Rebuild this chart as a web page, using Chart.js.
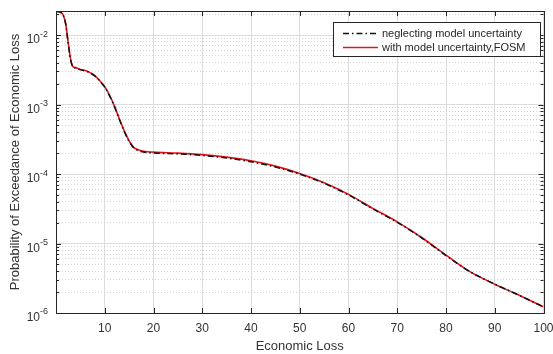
<!DOCTYPE html>
<html>
<head>
<meta charset="utf-8">
<script src="https://cdn.jsdelivr.net/npm/chart.js@4"></script>
<style>
  html, body { margin: 0; padding: 0; background: #fff; }
  #wrap { width: 553px; height: 354px; }
</style>
</head>
<body>
<div id="wrap"><canvas id="loss-chart" width="553" height="354"></canvas></div>
<script>
// ===== Data =====
const lossValues = [0, 0.5, 1, 1.5, 2, 2.5, 3, 3.5, 4, 5, 6, 7, 8, 9, 10, 11, 12, 13, 14, 15, 16, 17, 18, 20,
  25, 30, 35, 40, 45, 50, 55, 60, 65, 70, 75, 80, 85, 90, 95, 100];
const pNeglect = [0.0218, 0.0217, 0.0211, 0.0192, 0.0142, 0.0076, 0.0044, 0.00345, 0.00335, 0.00318, 0.00305,
  0.00285, 0.00256, 0.00218, 0.00178, 0.00133, 0.00093, 0.00061, 0.00041, 0.000295, 0.000236, 0.000216,
  0.000207, 0.000201, 0.000195, 0.000185, 0.00017, 0.00015, 0.000126, 0.0000995, 0.0000735, 0.00005,
  0.0000315, 0.0000202, 0.0000121, 0.0000067, 0.0000039, 0.0000026, 0.0000018, 0.00000122];
const pFosm = [0.0219, 0.0218, 0.0212, 0.0193, 0.0144, 0.0078, 0.0045, 0.0035, 0.0034, 0.0032, 0.00308,
  0.00288, 0.00259, 0.0022, 0.0018, 0.00135, 0.00095, 0.00062, 0.00042, 0.0003, 0.00024, 0.000222,
  0.000213, 0.000207, 0.0002, 0.00019, 0.000175, 0.000155, 0.00013, 0.000102, 0.000075, 0.000051,
  0.000032, 0.0000205, 0.0000122, 0.0000068, 0.0000039, 0.0000026, 0.0000018, 0.00000123];
const seriesLabels = ['neglecting model uncertainty', 'with model uncertainty,FOSM'];
const xTickValues = [10, 20, 30, 40, 50, 60, 70, 80, 90, 100];
const yDecades = [-6, -5, -4, -3, -2];
const yMinorFactors = [2, 3, 4, 5, 6, 7, 8, 9];

const X_MIN = 0, X_MAX = 100, Y_MIN = 1e-6, Y_MAX = 0.0222;
const TEXT_COLOR = '#333333';
const FONT_FAMILY = '"Liberation Sans", Arial, sans-serif';

function buildYTicks() {
  const ticks = [];
  yDecades.forEach(d => {
    const base = Math.pow(10, d);
    ticks.push({ value: base, major: true });
    yMinorFactors.forEach(f => {
      const v = f * base;
      if (v <= Y_MAX) ticks.push({ value: v, major: false });
    });
  });
  return ticks;
}

function toPoints(values) {
  return lossValues.map((x, i) => ({ x, y: values[i] }));
}

// ===== Frame, tick marks, y labels, legend =====
const matlabAxesPlugin = {
  id: 'matlabAxes',
  afterDraw(chart) {
    const { ctx, chartArea: a, scales } = chart;
    const xs = scales.x, ys = scales.y;
    ctx.save();

    // box
    ctx.strokeStyle = '#262626';
    ctx.lineWidth = 1;
    ctx.strokeRect(Math.round(a.left) + 0.5, Math.round(a.top) + 0.5,
      Math.round(a.right - a.left), Math.round(a.bottom - a.top));

    // tick marks (inward, all four sides)
    ctx.beginPath();
    xTickValues.forEach(v => {
      const px = Math.round(xs.getPixelForValue(v)) + 0.5;
      ctx.moveTo(px, a.bottom); ctx.lineTo(px, a.bottom - 5);
      ctx.moveTo(px, a.top); ctx.lineTo(px, a.top + 5);
    });
    buildYTicks().forEach(t => {
      const py = Math.round(ys.getPixelForValue(t.value)) + 0.5;
      const len = t.major ? 5 : 3;
      ctx.moveTo(a.left, py); ctx.lineTo(a.left + len, py);
      ctx.moveTo(a.right, py); ctx.lineTo(a.right - len, py);
    });
    ctx.stroke();

    // y labels as 10^n
    ctx.fillStyle = TEXT_COLOR;
    ctx.textAlign = 'right';
    ctx.textBaseline = 'middle';
    yDecades.forEach(d => {
      const py = ys.getPixelForValue(Math.pow(10, d));
      const sup = String(d);
      ctx.font = '9px ' + FONT_FAMILY;
      const supW = ctx.measureText(sup).width;
      ctx.fillText(sup, 48, py - 1);
      ctx.font = '12px ' + FONT_FAMILY;
      ctx.fillText('10', 48 - supW, py + 5);
    });

    // legend
    const lx = 333.5, ly = 22.5, lw = 207, lh = 34;
    ctx.fillStyle = '#ffffff';
    ctx.fillRect(lx, ly, lw, lh);
    ctx.strokeStyle = '#262626';
    ctx.strokeRect(lx, ly, lw, lh);
    const styles = [
      { color: '#111111', dash: [6, 3, 1.5, 3], width: 1.5 },
      { color: '#e8141b', dash: [], width: 1.5 },
    ];
    seriesLabels.forEach((label, i) => {
      const y = ly + 11 + i * 14;
      ctx.beginPath();
      ctx.setLineDash(styles[i].dash);
      ctx.strokeStyle = styles[i].color;
      ctx.lineWidth = styles[i].width;
      ctx.moveTo(343, y); ctx.lineTo(378, y);
      ctx.stroke();
      ctx.setLineDash([]);
      ctx.fillStyle = '#262626';
      ctx.font = '11px ' + FONT_FAMILY;
      ctx.textAlign = 'left';
      ctx.fillText(label, 382, y);
    });
    ctx.restore();
  },
};

// ===== Chart =====
function renderChart() {
  const ctx = document.getElementById('loss-chart').getContext('2d');
  new Chart(ctx, {
    type: 'line',
    data: {
      datasets: [
        {
          label: seriesLabels[0],
          data: toPoints(pNeglect),
          borderColor: '#111111',
          borderWidth: 1.5,
          borderDash: [6, 3, 1.5, 3],
          pointRadius: 0,
          cubicInterpolationMode: 'monotone',
        },
        {
          label: seriesLabels[1],
          data: toPoints(pFosm),
          borderColor: '#e8141b',
          borderWidth: 1.6,
          pointRadius: 0,
          cubicInterpolationMode: 'monotone',
        },
      ],
    },
    options: {
      responsive: false,
      animation: false,
      layout: { padding: { left: 0, right: 9.5, top: 11, bottom: 0 } },
      plugins: { legend: { display: false }, tooltip: { enabled: false } },
      scales: {
        x: {
          type: 'linear',
          min: X_MIN,
          max: X_MAX,
          afterBuildTicks: (scale) => { scale.ticks = xTickValues.map(v => ({ value: v })); },
          afterFit: (scale) => {
            scale.height = 41;
            scale.paddingLeft = 0;
            scale.paddingRight = 0;
          },
          border: { display: false },
          grid: { color: '#dcdcdc', lineWidth: 1, drawTicks: false },
          ticks: {
            color: TEXT_COLOR,
            font: { family: FONT_FAMILY, size: 12 },
            padding: 8,
            maxRotation: 0,
            autoSkip: false,
          },
          title: {
            display: true,
            text: 'Economic Loss',
            color: TEXT_COLOR,
            font: { family: FONT_FAMILY, size: 13 },
            padding: { top: 0, bottom: 0 },
          },
        },
        y: {
          type: 'logarithmic',
          min: Y_MIN,
          max: Y_MAX,
          afterBuildTicks: (scale) => { scale.ticks = buildYTicks(); },
          afterFit: (scale) => {
            scale.width = 56;
            scale.paddingTop = 0;
            scale.paddingBottom = 0;
          },
          border: {
            display: false,
            dash: (c) => (c.tick && c.tick.major ? [] : [1, 2]),
          },
          grid: {
            color: (c) => (c.tick && c.tick.major ? '#dcdcdc' : '#d4d4d4'),
            lineWidth: 1,
            drawTicks: false,
          },
          ticks: { display: false },
          title: {
            display: true,
            text: 'Probability of Exceedance of Economic Loss',
            color: TEXT_COLOR,
            font: { family: FONT_FAMILY, size: 13 },
            padding: { top: 8, bottom: 0 },
          },
        },
      },
    },
    plugins: [matlabAxesPlugin],
  });
}

renderChart();
</script>
</body>
</html>
